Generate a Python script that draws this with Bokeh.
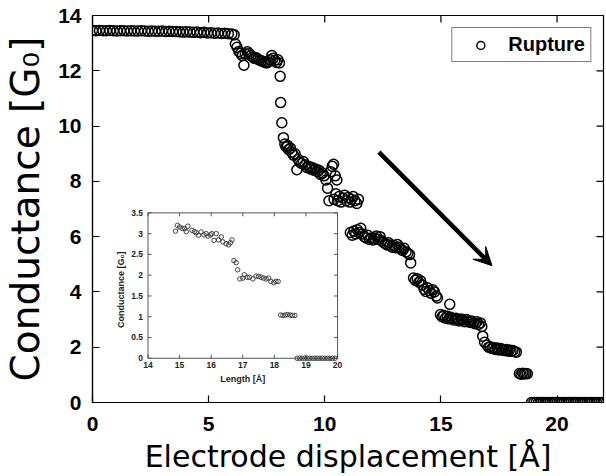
import math
from bokeh.plotting import figure
from bokeh.models import (Range1d, FixedTicker, Arrow, VeeHead, Legend, LegendItem)
from bokeh.core.properties import value
from bokeh.embed import file_html
from bokeh.resources import INLINE

# ---------------- main data (electrode displacement [Å], conductance [G0]) -------------
plateau_x = [0.00, 0.15, 0.30, 0.45, 0.60, 0.75, 0.90, 1.05, 1.20, 1.35, 1.50, 1.65, 1.80,
             1.95, 2.10, 2.25, 2.40, 2.55, 2.70, 2.85, 3.00, 3.15, 3.30, 3.45, 3.60, 3.75,
             3.90, 4.05, 4.20, 4.35, 4.50, 4.65, 4.80, 4.95, 5.10, 5.25, 5.40, 5.55, 5.70,
             5.85, 6.00]
plateau_y = [13.46, 13.45, 13.46, 13.45, 13.45, 13.46, 13.45, 13.44, 13.45, 13.45,
             13.44, 13.45, 13.44, 13.44, 13.45, 13.44, 13.43, 13.44, 13.43, 13.43,
             13.44, 13.42, 13.43, 13.42, 13.42, 13.41, 13.40, 13.41, 13.40, 13.39,
             13.40, 13.38, 13.39, 13.37, 13.38, 13.36, 13.37, 13.35, 13.36, 13.34, 13.33]

step12_x = [6.10, 6.15, 6.22, 6.30, 6.38, 6.45, 6.52, 6.58, 6.67, 6.75, 6.82, 6.90, 6.97,
            7.05, 7.12, 7.20, 7.28, 7.35, 7.43, 7.50, 7.57, 7.64, 7.72, 7.78, 7.85, 7.92,
            7.98, 8.05]
step12_y = [13.30, 12.97, 12.85, 12.70, 12.63, 12.55, 12.20, 12.62, 12.69, 12.62, 12.55,
            12.50, 12.45, 12.47, 12.42, 12.38, 12.36, 12.33, 12.30, 12.28, 12.32, 12.40,
            12.55, 12.45, 12.38, 12.30, 12.40, 12.28]

drop_x = [8.08, 8.10, 8.15, 8.22]
drop_y = [11.80, 10.85, 10.12, 9.58]

step9_x = [8.28, 8.33, 8.40, 8.45, 8.52, 8.58, 8.65, 8.72, 8.80, 8.85, 8.92, 9.00, 9.08,
           9.15, 9.22, 9.30, 9.38, 9.45, 9.52, 9.60, 9.68, 9.75, 9.82, 9.90, 9.97, 10.05,
           10.12, 10.18, 10.25, 10.32, 10.38, 10.45, 10.52]
step9_y = [9.35, 9.25, 9.30, 9.15, 9.20, 9.05, 8.95, 9.00, 8.42, 8.80, 8.70, 8.65, 8.72,
           8.60, 8.50, 8.55, 8.45, 8.50, 8.40, 8.45, 8.35, 8.40, 8.25, 8.30, 8.20, 8.05,
           7.75, 7.30, 8.35, 8.55, 8.62, 8.20, 8.05]

step7_x = [10.40, 10.48, 10.55, 10.62, 10.70, 10.78, 10.85, 10.92, 11.00, 11.08, 11.15,
           11.22, 11.30, 11.38, 11.45]
step7_y = [7.35, 7.55, 7.30, 7.45, 7.25, 7.40, 7.50, 7.30, 7.42, 7.25, 7.35, 7.45, 7.30,
           7.20, 7.35]

step6_x = [11.10, 11.18, 11.25, 11.33, 11.40, 11.48, 11.55, 11.62, 11.70, 11.78, 11.85,
           11.92, 12.00, 12.08, 12.15, 12.22, 12.30, 12.38, 12.45, 12.52, 12.60, 12.68,
           12.75, 12.82, 12.90, 12.98, 13.05, 13.12, 13.20, 13.28, 13.35, 13.42, 13.50,
           13.58, 13.65, 13.70]
step6_y = [6.15, 6.05, 6.20, 6.10, 6.25, 6.15, 6.30, 6.10, 6.00, 5.95, 6.05, 5.90, 5.95,
           5.88, 5.95, 6.02, 5.90, 6.00, 5.85, 5.80, 5.75, 5.70, 5.78, 5.70, 5.62, 5.68,
           5.60, 5.72, 5.62, 5.55, 5.50, 5.58, 5.45, 5.40, 5.35, 5.05]

step4_x = [13.82, 13.90, 13.98, 14.05, 14.12, 14.20, 14.28, 14.35, 14.42, 14.50, 14.58,
           14.65, 14.72, 14.80, 14.85, 15.38]
step4_y = [4.50, 4.42, 4.48, 4.35, 4.40, 4.25, 4.10, 4.02, 4.15, 4.05, 3.95, 4.08, 4.00,
           3.85, 3.78, 3.55]

step3_x = [14.98, 15.05, 15.12, 15.20, 15.28, 15.35, 15.42, 15.50, 15.58, 15.65, 15.72,
           15.80, 15.88, 15.95, 16.02, 16.10, 16.18, 16.25, 16.32, 16.40, 16.48, 16.55,
           16.62, 16.70, 16.76, 16.80, 16.88]
step3_y = [3.18, 3.10, 3.15, 3.05, 3.12, 3.02, 3.08, 3.05, 2.98, 3.05, 3.00, 2.95, 3.02,
           2.98, 2.92, 3.00, 2.95, 2.90, 2.95, 2.88, 2.85, 2.92, 2.82, 2.88, 2.75, 2.40,
           2.18]

step2_x = [16.98, 17.05, 17.12, 17.20, 17.28, 17.35, 17.42, 17.50, 17.58, 17.65, 17.72,
           17.80, 17.88, 17.95, 18.02, 18.10, 18.18, 18.25]
step2_y = [2.08, 2.00, 2.02, 1.95, 1.98, 1.92, 1.97, 1.90, 1.95, 1.90, 1.88, 1.92, 1.86,
           1.90, 1.85, 1.88, 1.84, 1.82]

step1_x = [18.38, 18.45, 18.52, 18.58, 18.65, 18.72]
step1_y = [1.05, 1.02, 1.06, 1.03, 1.05, 1.04]

step0_x = [18.90, 19.00, 19.10, 19.20, 19.30, 19.40, 19.50, 19.60, 19.70, 19.80, 19.90,
           20.00, 20.10, 20.20, 20.30, 20.40, 20.50, 20.60, 20.70, 20.80, 20.90, 21.00,
           21.10, 21.20, 21.30, 21.40, 21.50, 21.60, 21.70, 21.80, 21.90, 22.00]
step0_y = [0.0] * len(step0_x)

displacement = (plateau_x + step12_x + drop_x + step9_x + step7_x + step6_x + step4_x
                + step3_x + step2_x + step1_x + step0_x)
conductance = (plateau_y + step12_y + drop_y + step9_y + step7_y + step6_y + step4_y
               + step3_y + step2_y + step1_y + step0_y)

main_xticks = [0, 5, 10, 15, 20]
main_yticks = [0, 2, 4, 6, 8, 10, 12, 14]

# ---------------- inset data (length [Å], conductance [G0]) ----------------
inset_len = [14.87, 14.93, 15.00, 15.08, 15.16, 15.21, 15.26, 15.39, 15.47, 15.53, 15.60,
             15.68, 15.77, 15.84, 15.90, 15.98, 16.02, 16.09, 16.16, 16.23, 16.32, 16.37,
             16.47, 16.55, 16.61, 16.66, 16.72, 16.79, 16.84, 16.91, 17.00, 17.05, 17.14,
             17.21, 17.32, 17.42, 17.50, 17.58, 17.66, 17.74, 17.82, 17.89, 17.98, 18.05,
             18.12, 18.20, 18.27, 18.35, 18.42, 18.50, 18.57, 18.65,
             18.72, 18.80, 18.88, 18.96, 19.04, 19.12, 19.20, 19.28, 19.36, 19.44, 19.52,
             19.60, 19.68, 19.76, 19.84, 19.92]
inset_cond = [3.06, 3.20, 3.16, 3.13, 3.12, 3.05, 3.18, 3.08, 3.05, 3.02, 2.96,
              3.04, 2.97, 3.00, 2.94, 2.97, 3.00, 2.84, 3.00, 2.85, 2.92, 2.80,
              2.76, 2.73, 2.78, 2.85, 2.35, 2.30, 2.13, 1.91, 1.93, 2.01, 1.95,
              1.95, 1.91, 1.98, 1.97, 1.95, 1.93, 1.91, 1.93, 1.85, 1.82, 1.85,
              1.85, 1.04, 1.03, 1.04, 1.05, 1.04, 1.03, 1.03,
              0.0, 0.0, 0.0, 0.0, 0.0, 0.0, 0.0, 0.0, 0.0, 0.0, 0.0,
              0.0, 0.0, 0.0, 0.0, 0.0]
inset_xticks = [14, 15, 16, 17, 18, 19, 20]
inset_yticks = [0, 0.5, 1, 1.5, 2, 2.5, 3, 3.5]
inset_ytick_labels = ["0", "0.5", "1", "1.5", "2", "2.5", "3", "3.5"]

# ---------------- figure ----------------
X_MAX, Y_MAX = 22, 14
p = figure(width=606, height=476, x_range=Range1d(0, X_MAX), y_range=Range1d(0, Y_MAX),
           output_backend="svg", toolbar_location=None,
           min_border_left=91, min_border_right=3, min_border_top=15, min_border_bottom=74)
p.grid.visible = False
p.outline_line_color = "black"
p.outline_line_width = 1.2
p.background_fill_color = "white"
p.border_fill_color = "white"

tick_font = "Liberation Sans"
for ax in (p.xaxis[0], p.yaxis[0]):
    ax.major_label_text_font = tick_font
    ax.major_label_text_font_style = "bold"
    ax.major_label_text_font_size = "21px"
    ax.major_label_text_color = "black"
    ax.major_tick_in = 7
    ax.major_tick_out = 0
    ax.minor_tick_line_color = None
    ax.axis_line_color = "black"
    ax.axis_line_width = 1.2
    ax.major_tick_line_width = 1.2
    ax.axis_label_text_font = "DejaVu Sans"
    ax.axis_label_text_font_style = "normal"
    ax.axis_label_text_color = "black"
p.xaxis[0].ticker = FixedTicker(ticks=main_xticks)
p.yaxis[0].ticker = FixedTicker(ticks=main_yticks)
p.xaxis[0].axis_label = "Electrode displacement [Å]"
p.xaxis[0].axis_label_text_font_size = "30px"
p.xaxis[0].major_label_standoff = 14
p.xaxis[0].axis_label_standoff = 5
p.yaxis[0].major_label_standoff = 11
p.yaxis[0].axis_label = "Conductance [G₀]"
p.yaxis[0].axis_label_text_font_size = "39px"
p.yaxis[0].axis_label_standoff = 7

# mirrored inward ticks on the top and right frame edges
mt = dict(length=7, length_units="screen", line_color="black", line_width=1.2)
p.ray(x=main_xticks, y=[Y_MAX] * len(main_xticks), angle=-math.pi / 2, **mt)
p.ray(x=[X_MAX] * len(main_yticks), y=main_yticks, angle=math.pi, **mt)

# ---------------- main scatter ----------------
main_r = p.scatter(displacement, conductance, marker="circle", size=10,
                   fill_color=None, line_color="black", line_width=1.5)

# ---------------- arrow ----------------
p.add_layout(Arrow(x_start=12.33, y_start=9.06, x_end=17.2, y_end=4.95,
                   line_width=4.5, line_color="black",
                   end=VeeHead(size=18, fill_color="black", line_color="black", line_width=1)))

# ---------------- legend ----------------
legend = Legend(items=[LegendItem(label="Rupture", renderers=[main_r])],
                location="top_right", margin=12, padding=5, spacing=0,
                glyph_width=46, glyph_height=20, label_standoff=5,
                label_text_font=tick_font, label_text_font_style="bold",
                label_text_font_size="20px", label_text_color="black",
                border_line_color="black", border_line_width=1.2,
                background_fill_color="white", background_fill_alpha=1)
p.add_layout(legend)

# ---------------- inset (own scales via extra ranges) ----------------
# inset box placement, in main-axis units
box_x0, box_x1, box_y0, box_y1 = 2.39, 10.55, 1.60, 6.86
L0, L1 = inset_xticks[0], inset_xticks[-1]
C0, C1 = inset_yticks[0], inset_yticks[-1]
kx = (L1 - L0) / (box_x1 - box_x0)
ky = (C1 - C0) / (box_y1 - box_y0)
p.extra_x_ranges["inset"] = Range1d(L0 - box_x0 * kx, L0 + (X_MAX - box_x0) * kx)
p.extra_y_ranges["inset"] = Range1d(C0 - box_y0 * ky, C0 + (Y_MAX - box_y0) * ky)
ins = dict(x_range_name="inset", y_range_name="inset")

p.quad(left=L0, right=L1, bottom=C0, top=C1, fill_color="white", line_color="#444",
       line_width=0.9, **ins)
tk = dict(length=3.5, length_units="screen", line_color="#444", line_width=0.9)
p.ray(x=inset_xticks, y=[C0] * len(inset_xticks), angle=math.pi / 2, **tk, **ins)
p.ray(x=inset_xticks, y=[C1] * len(inset_xticks), angle=-math.pi / 2, **tk, **ins)
p.ray(x=[L0] * len(inset_yticks), y=inset_yticks, angle=0, **tk, **ins)
p.ray(x=[L1] * len(inset_yticks), y=inset_yticks, angle=math.pi, **tk, **ins)

small = dict(text_font=value(tick_font), text_font_style="bold", text_color="#222")
p.text(x=inset_xticks, y=[C0] * len(inset_xticks), text=[str(t) for t in inset_xticks],
       text_align="center", text_baseline="top", y_offset=4, text_font_size="8.5px",
       **small, **ins)
p.text(x=[L0] * len(inset_yticks), y=inset_yticks, text=inset_ytick_labels,
       text_align="right", text_baseline="middle", x_offset=-5, text_font_size="8.5px",
       **small, **ins)
p.text(x=[(L0 + L1) / 2], y=[C0], text=["Length [Å]"], text_align="center",
       text_baseline="top", y_offset=16, text_font_size="9px", **small, **ins)
p.text(x=[L0], y=[(C0 + C1) / 2 - 0.1], text=["Conductance [G₀]"], text_align="center",
       text_baseline="middle", x_offset=-27, angle=math.pi / 2, text_font_size="9px",
       **small, **ins)

p.scatter(inset_len, inset_cond, marker="circle", size=4.5, fill_color=None,
          line_color="#333", line_width=0.9, **ins)

open("out.html", "w").write(file_html(p, INLINE))
